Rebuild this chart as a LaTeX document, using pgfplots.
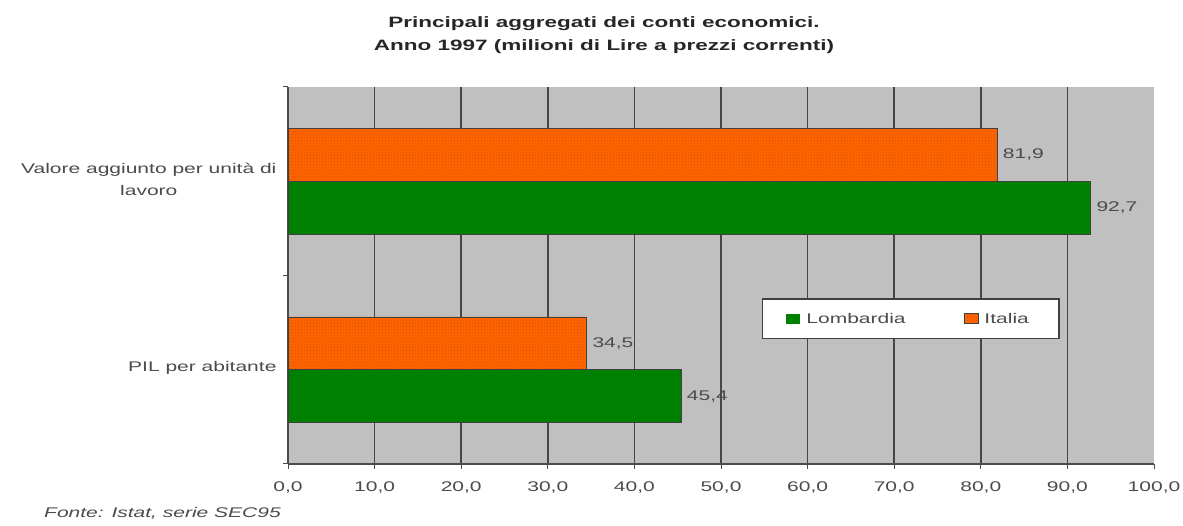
\documentclass[border=0pt]{standalone}
\usepackage{fontspec}
\setmainfont{Liberation Sans}[FakeStretch=1.5]
\usepackage{pgfplots}
\pgfplotsset{compat=1.18}
\usetikzlibrary{patterns}
\definecolor{bg}{RGB}{192,192,192}
\definecolor{grn}{RGB}{0,128,0}
\definecolor{orng}{RGB}{255,102,0}
\definecolor{orngd}{RGB}{215,75,0}
\definecolor{txt}{RGB}{75,75,75}
\definecolor{gridc}{RGB}{70,70,70}
\begin{document}
\begin{tikzpicture}[font=\fontsize{14pt}{17pt}\selectfont]
\useasboundingbox (0pt,0pt) rectangle (1183pt,526pt);
\begin{axis}[
  at={(288pt,62pt)}, anchor=south west,
  width=866pt, height=377pt, scale only axis,
  xbar, bar width=0.28,
  xmin=0, xmax=100, ymin=-0.5, ymax=1.5,
  xtick={0,10,...,90},
  extra x ticks={100},
  extra x tick style={grid=none},
  ytick={-0.5,0.5,1.5}, yticklabels={},
  extra y ticks={0,1},
  extra y tick labels={PIL per abitante,{Valore aggiunto per unità di\\lavoro}},
  extra y tick style={major tick length=0pt,
    yticklabel style={align=center, font=\fontsize{14pt}{22pt}\selectfont, text=txt, xshift=-8pt, yshift=2pt}},
  axis background/.style={fill=bg},
  xmajorgrids, major grid style={gridc, line width=1.7pt},
  axis x line*=bottom, axis y line*=left,
  axis line style={black!70, line width=1.2pt},
  tick style={black!70, line width=1pt}, tick align=outside, major tick length=5pt,
  xticklabel style={text=txt, yshift=-9pt},
  point meta=x,
  nodes near coords,
  nodes near coords style={text=txt, font=\fontsize{14pt}{17pt}\selectfont, xshift=2pt},
  /pgf/number format/.cd, fixed, fixed zerofill, precision=1, use comma, assume math mode=true,
  /pgfplots/.cd,
  legend columns=2,
  legend style={at={(0.719,0.385)}, anchor=center, draw=black!75, line width=1.5pt, fill=white,
    text=txt, inner xsep=24pt, inner ysep=12pt,
    /tikz/every even column/.append style={column sep=52pt},
    nodes={inner xsep=6pt}},
]
\addplot[fill=grn, draw=black!75, line width=0.8pt, bar shift=-0.14,
  legend image code/.code={\fill[fill=grn, draw=none] (0pt,-5pt) rectangle (14pt,5pt);}]
  coordinates {(45.4,0) (92.7,1)};
\addplot[fill=orng, draw=black!75, line width=0.8pt, bar shift=0.14,
  postaction={pattern=crosshatch dots, pattern color=orngd},
  legend image code/.code={\fill[fill=orng, draw=none] (0pt,-5pt) rectangle (14pt,5pt);}]
  coordinates {(34.5,0) (81.9,1)};
\legend{Lombardia,Italia}
\end{axis}
\node[align=center, font=\bfseries\fontsize{15pt}{23pt}\selectfont, text=black!85] at (604pt,491pt)
  {Principali aggregati dei conti economici.\\Anno 1997 (milioni di Lire a prezzi correnti)};
\node[anchor=west, font=\itshape\fontsize{14pt}{17pt}\selectfont, text=txt, inner sep=0pt] at (44pt,13pt)
  {Fonte: Istat, serie SEC95};
\end{tikzpicture}
\end{document}
